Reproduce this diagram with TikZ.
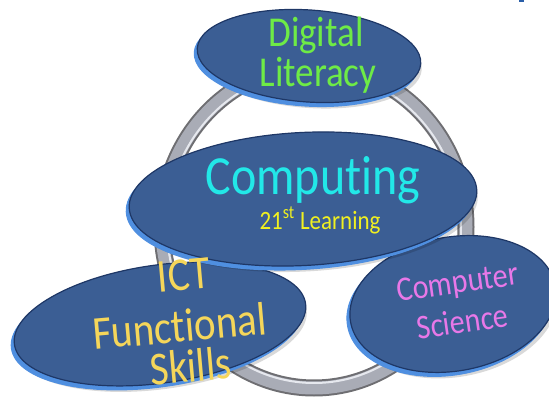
\documentclass[tikz,border=0pt]{standalone}
\usepackage{fontspec}
\setmainfont{Carlito}[Ligatures=NoCommon]
\usetikzlibrary{shapes.geometric}
\definecolor{bubfill}{HTML}{3B5E94}
\definecolor{bubedge}{HTML}{1E3766}
\definecolor{bubrim}{HTML}{4F8FE0}
\definecolor{ringdark}{HTML}{6E6E72}
\definecolor{ringmid}{HTML}{A9ACB6}
\definecolor{ringlight}{HTML}{E6E8EE}
\definecolor{dlgreen}{HTML}{6EEB46}
\definecolor{compcyan}{HTML}{22E8E8}
\definecolor{learnyellow}{HTML}{F0F020}
\definecolor{ictyellow}{HTML}{F5D65A}
\definecolor{csmagenta}{HTML}{E878E8}
\definecolor{markblue}{HTML}{2A5FA8}
\newcommand\tallbox[1]{\scalebox{1}[1.15]{#1}}
\begin{document}
\begin{tikzpicture}[x=1pt,y=-1pt,
  bubble/.style={ellipse, inner sep=0pt, fill=bubfill, draw=bubedge, line width=1.2pt,
    preaction={fill=black, opacity=0.15, transform canvas={shift={(1pt,-6pt)}}},
    preaction={fill=bubrim, draw=bubrim, line width=1pt, transform canvas={shift={(-3pt,-4pt)}}}},
  lbl/.style={anchor=base, inner sep=0pt}]
\useasboundingbox (0,0) rectangle (549,401);
% ring
\coordinate (rc) at (314,227);
\draw[ringdark, line width=17pt] (rc) ellipse [x radius=152, y radius=161];
\draw[ringmid, line width=13pt] (rc) ellipse [x radius=152, y radius=161];
\draw[ringlight, line width=2pt] (rc) ellipse [x radius=147, y radius=156];
% bubbles
\node[bubble, minimum width=294pt, minimum height=118pt, rotate=8] (ict) at (160,324) {};
\node[bubble, minimum width=208pt, minimum height=134pt, rotate=10] (cs) at (453,304) {};
\node[bubble, minimum width=224pt, minimum height=92pt, rotate=-4] (dl) at (309,56) {};
\node[bubble, minimum width=348pt, minimum height=133pt, rotate=3] (comp) at (303,199) {};
% texts
\node[lbl, text=dlgreen, font=\fontsize{37}{40}\selectfont] (dlA) at (316,47) {\tallbox{Digital}};
\node[lbl, text=dlgreen, font=\fontsize{37}{40}\selectfont] (dlB) at (318,87) {\tallbox{Literacy}};
\node[lbl, text=compcyan, font=\fontsize{48}{52}\selectfont] (compA) at (313,194) {\tallbox{Computing}};
\node[lbl, text=learnyellow, font=\fontsize{23}{26}\selectfont] (compB) at (320,229) {\tallbox{21\textsuperscript{st} Learning}};
\node[lbl, text=ictyellow, font=\fontsize{41}{44}\selectfont, rotate=5] (ictA) at (185,290) {\tallbox{ICT}};
\node[lbl, text=ictyellow, font=\fontsize{41}{44}\selectfont, rotate=5] (ictB) at (181,342) {\tallbox{Functional}};
\node[lbl, text=ictyellow, font=\fontsize{41}{44}\selectfont, rotate=5] (ictC) at (192,382) {\tallbox{Skills}};
\node[lbl, text=csmagenta, font=\fontsize{30}{34}\selectfont, rotate=8] (csA) at (459,293) {\tallbox{Computer}};
\node[lbl, text=csmagenta, font=\fontsize{30}{34}\selectfont, rotate=8] (csB) at (464,333) {\tallbox{Science}};
% small mark at top edge
\fill[markblue] (519,0) rectangle (524,2);
\end{tikzpicture}
\end{document}
